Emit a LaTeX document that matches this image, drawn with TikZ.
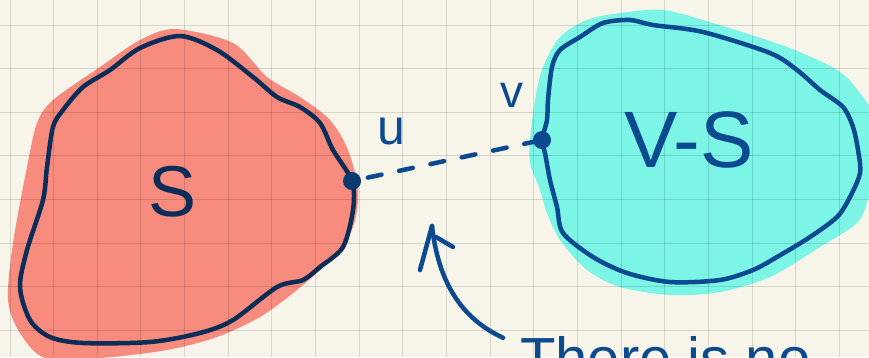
\documentclass[tikz,border=0pt]{standalone}
\usepackage{fontspec}
\setmainfont{Liberation Sans}
\definecolor{paper}{HTML}{F7F5EA}
\definecolor{salmon}{HTML}{F68B7E}
\definecolor{aqua}{HTML}{7CF5E6}
\definecolor{navy}{HTML}{0C2D57}
\definecolor{navyb}{HTML}{0B3A70}
\definecolor{ink}{HTML}{0B4A8E}
\begin{document}
\begin{tikzpicture}[x=1pt,y=-1pt,
  gridline/.style={line width=1pt,black,opacity=0.13},
  outline/.style={line width=4.5pt,line join=round},
  dotnode/.style={circle,inner sep=0pt,minimum size=18pt},
  dashline/.style={ink,line width=4.5pt,line cap=round,dash pattern=on 14pt off 18pt,dash phase=25pt},
  arrowline/.style={ink,line width=4.5pt,line cap=round,line join=round},
  label/.style={ink,inner sep=0pt}]
\useasboundingbox (0,0) rectangle (869,357);
\clip (0,0) rectangle (869,357);
\fill[paper] (0,0) rectangle (869,357);
% fills
\fill[salmon] plot[smooth cycle] coordinates {(175,29) (233,43) (267,77) (300,97) (330,120) (348,150) (358,190) (353,227) (330,260) (297,290) (260,317) (217,337) (167,350) (100,358) (45,358) (20,333) (8,300) (13,243) (27,167) (37,123) (53,100) (100,67) (140,40)};
\fill[aqua] plot[smooth cycle] coordinates {(663,10) (713,23) (787,47) (837,70) (860,93) (875,120) (878,170) (868,200) (857,223) (820,247) (770,277) (720,292) (670,295) (620,287) (587,270) (560,240) (547,213) (540,190) (530,163) (530,140) (535,100) (543,67) (560,37) (587,20) (620,13)};
% grid
\foreach \k in {0,...,19} \draw[gridline] ({10+43.65*\k},0) -- ({10+43.65*\k},357);
\foreach \k in {0,...,7} \draw[gridline] (0,{25+43.65*\k}) -- (869,{25+43.65*\k});
% outlines
\draw[outline,navy] plot[smooth cycle] coordinates {(352,181) (353,210) (343,247) (320,267) (303,280) (277,287) (233,320) (200,333) (150,342) (83,343) (50,337) (30,320) (20,287) (27,250) (43,200) (47,167) (53,127) (63,110) (83,87) (110,70) (140,48) (180,36) (217,50) (253,77) (277,97) (300,107) (320,123) (333,150)};
\draw[outline,ink] plot[smooth cycle] coordinates {(542,140) (545,153) (550,180) (557,207) (563,233) (593,257) (627,273) (670,282) (720,280) (753,270) (777,257) (810,237) (837,217) (850,197) (860,173) (858,150) (853,127) (843,107) (820,90) (797,70) (770,53) (703,32) (653,25) (630,20) (603,23) (580,37) (560,50) (552,67) (548,100) (547,120)};
% vertices
\node[dotnode,fill=navyb] (u) at (352,181) {};
\node[dotnode,fill=ink] (v) at (542,140) {};
\draw[dashline] (u) -- (v);
% labels
\node[label,font=\fontsize{50}{50}\selectfont] (ulabel) at (391,132) {u};
\node[label,font=\fontsize{46}{46}\selectfont] (vlabel) at (512,95) {v};
\node[inner sep=0pt,navy,font=\fontsize{72}{72}\selectfont] (slabel) at (173,192) {S};
\node[label,font=\fontsize{80}{80}\selectfont] (vslabel) at (689,140) {V-S};
\node[label,anchor=base west,font=\fontsize{58}{58}\selectfont] (note) at (520,378) {There is no};
% arrow
\coordinate (tip) at (432,226);
\coordinate (barbL) at (420,270);
\coordinate (barbRs) at (436,237);
\coordinate (barbRe) at (453,247);
\draw[arrowline] ([shift={(-17,2)}]note.north west) .. controls (460,318) and (438,280) .. (tip);
\draw[arrowline] (barbL) -- (tip);
\draw[arrowline] (barbRs) -- (barbRe);
\end{tikzpicture}
\end{document}
